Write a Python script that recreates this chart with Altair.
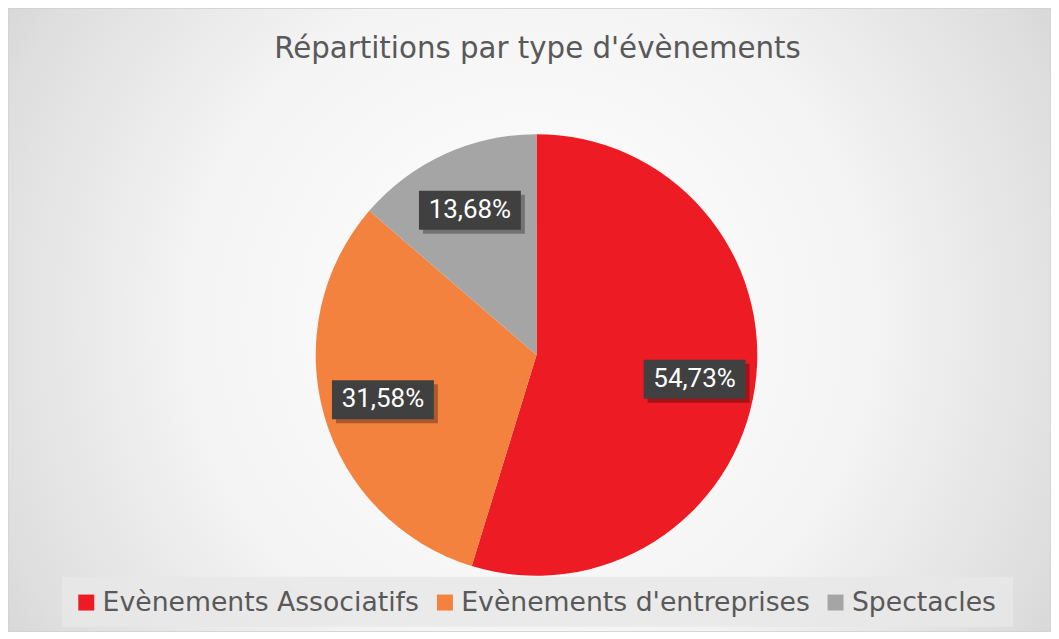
import math
import altair as alt
import pandas as pd

categories = ["Evènements Associatifs", "Evènements d'entreprises", "Spectacles"]
shares = [54.73, 31.58, 13.68]
labels = ["54,73%", "31,58%", "13,68%"]
colors = ["#ED1C24", "#F4823F", "#A5A5A5"]
title_text = "Répartitions par type d'évènements"

W, H = 1044, 624
CX, CY, R = 529, 347, 221
LABEL_R = 160
FONT = "DejaVu Sans"
LFONT = "Roboto"

df = pd.DataFrame({"cat": categories, "share": shares, "label": labels, "order": [0, 1, 2]})
total = sum(shares)
cum = 0.0
xs, ys = [], []
for s in shares:
    mid = (cum + s / 2) / total * 2 * math.pi
    xs.append(CX + LABEL_R * math.sin(mid))
    ys.append(CY - LABEL_R * math.cos(mid))
    cum += s
df["lx"] = xs
df["ly"] = ys
df["bx1"] = df["lx"] - 51
df["bx2"] = df["lx"] + 51
df["by1"] = df["ly"] - 19
df["by2"] = df["ly"] + 20
df["sx1"] = df["bx1"] + 4
df["sx2"] = df["bx2"] + 4
df["sy1"] = df["by1"] + 4
df["sy2"] = df["by2"] + 4

one = pd.DataFrame({"t": [title_text]})

gradient = alt.RadialGradient(
    gradient="radial",
    stops=[
        alt.GradientStop(offset=0, color="#ffffff"),
        alt.GradientStop(offset=0.45, color="#f4f4f4"),
        alt.GradientStop(offset=0.75, color="#dedede"),
        alt.GradientStop(offset=1, color="#c4c4c4"),
    ],
    x1=0.5, y1=0.5, x2=0.5, y2=0.5, r1=0, r2=0.72,
)

bg = alt.Chart(one).mark_rect(fill=gradient, stroke="#cfcfcf", strokeWidth=1).encode(
    x=alt.value(0), x2=alt.value(W), y=alt.value(0), y2=alt.value(H)
)

title = alt.Chart(one).mark_text(
    font=FONT, fontSize=29.3, color="#595959", baseline="alphabetic", align="center"
).encode(x=alt.value(530), y=alt.value(50), text="t:N")

pie = alt.Chart(df).mark_arc(outerRadius=R).encode(
    theta=alt.Theta("share:Q", stack=True),
    order=alt.Order("order:Q"),
    x=alt.value(CX),
    y=alt.value(CY),
    color=alt.Color(
        "cat:N",
        scale=alt.Scale(domain=categories, range=colors),
        sort=categories,
        legend=alt.Legend(
            title=None,
            orient="none",
            legendX=65,
            legendY=581,
            direction="horizontal",
            symbolType="square",
            symbolSize=256,
            symbolStrokeWidth=0,
            symbolOpacity=1,
            labelFont=FONT,
            labelFontSize=26.7,
            labelColor="#595959",
            labelOffset=3,
            labelLimit=0,
            columnPadding=12,
            padding=0,
        ),
    ),
)

legend_bg = alt.Chart(one).mark_rect(fill="#e8e8e8", opacity=0.85).encode(
    x=alt.value(54), x2=alt.value(1006), y=alt.value(569), y2=alt.value(619)
)

shadow = alt.Chart(df).mark_rect(fill="#000000", opacity=0.3).encode(
    x=alt.X("sx1:Q", scale=None), x2="sx2:Q",
    y=alt.Y("sy1:Q", scale=None), y2="sy2:Q",
)
boxes = alt.Chart(df).mark_rect(fill="#404040").encode(
    x=alt.X("bx1:Q", scale=None), x2="bx2:Q",
    y=alt.Y("by1:Q", scale=None), y2="by2:Q",
)
texts = alt.Chart(df).mark_text(
    font=LFONT, fontSize=26, color="#ffffff", baseline="middle", align="center"
).encode(
    x=alt.X("lx:Q", scale=None),
    y=alt.Y("ly:Q", scale=None),
    text="label:N",
)

chart = alt.layer(bg, title, legend_bg, pie, shadow, boxes, texts).properties(
    width=W, height=H, padding=0, autosize=alt.AutoSizeParams(type="none")
).configure_view(stroke=None)

chart.save("out.html", embed_options={"renderer": "svg", "actions": False})
